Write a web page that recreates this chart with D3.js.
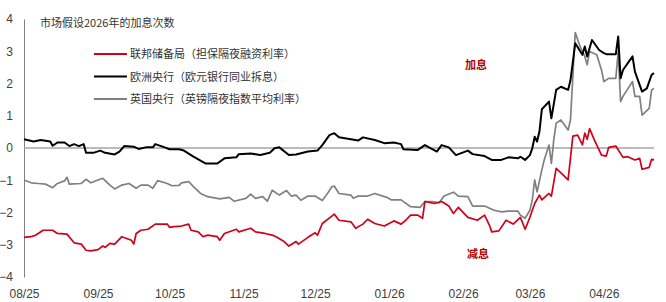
<!DOCTYPE html>
<html>
<head>
<meta charset="utf-8">
<script src="https://cdn.jsdelivr.net/npm/d3@7"></script>
<style>
    body { margin: 0; background: #fff; }
    svg text { font-family: "Liberation Sans", Arial, sans-serif; }
    .cjk { font-family: "Noto Sans CJK SC", sans-serif; }
</style>
</head>
<body>
<div id="chart"></div>
<script>
// values: [date, number of hikes priced for 2026]
const fedSeries = [
    ["2025-08-01", -2.77], ["2025-08-04", -2.75], ["2025-08-06", -2.7], ["2025-08-09", -2.55],
    ["2025-08-13", -2.55], ["2025-08-15", -2.65], ["2025-08-19", -2.67], ["2025-08-22", -2.94],
    ["2025-08-25", -2.98], ["2025-08-27", -3.17], ["2025-08-29", -3.19], ["2025-09-01", -3.15],
    ["2025-09-03", -3.04], ["2025-09-04", -3.08], ["2025-09-06", -2.96], ["2025-09-08", -2.98],
    ["2025-09-11", -2.75], ["2025-09-15", -2.86], ["2025-09-16", -2.98], ["2025-09-17", -2.65],
    ["2025-09-19", -2.55], ["2025-09-22", -2.52], ["2025-09-25", -2.36], ["2025-09-30", -2.36],
    ["2025-10-01", -2.46], ["2025-10-03", -2.44], ["2025-10-06", -2.42], ["2025-10-09", -2.36],
    ["2025-10-10", -2.55], ["2025-10-13", -2.6], ["2025-10-15", -2.75], ["2025-10-17", -2.7],
    ["2025-10-21", -2.75], ["2025-10-22", -2.86], ["2025-10-24", -2.65], ["2025-10-29", -2.52],
    ["2025-10-30", -2.6], ["2025-11-04", -2.49], ["2025-11-06", -2.6], ["2025-11-10", -2.65],
    ["2025-11-13", -2.7], ["2025-11-15", -2.77], ["2025-11-18", -2.9], ["2025-11-20", -3.04],
    ["2025-11-23", -2.9], ["2025-11-24", -2.98], ["2025-11-28", -2.77], ["2025-12-01", -2.63],
    ["2025-12-02", -2.7], ["2025-12-04", -2.34], ["2025-12-08", -2.11], ["2025-12-09", -2.05],
    ["2025-12-11", -2.24], ["2025-12-16", -2.29], ["2025-12-18", -2.49], ["2025-12-21", -2.36],
    ["2025-12-23", -2.21], ["2025-12-26", -2.34], ["2025-12-30", -2.42], ["2026-01-03", -2.26],
    ["2026-01-06", -2.36], ["2026-01-08", -2.24], ["2026-01-10", -2.08], ["2026-01-13", -2.08],
    ["2026-01-15", -2.18], ["2026-01-16", -1.66], ["2026-01-20", -1.72], ["2026-01-23", -1.66],
    ["2026-01-26", -1.8], ["2026-01-28", -2.03], ["2026-01-30", -1.84], ["2026-02-03", -2.15],
    ["2026-02-07", -2.24], ["2026-02-10", -2.08], ["2026-02-12", -2.39], ["2026-02-13", -2.6],
    ["2026-02-16", -2.57], ["2026-02-19", -2.24], ["2026-02-22", -2.36], ["2026-02-25", -2.15],
    ["2026-02-27", -2.52], ["2026-03-01", -2.15], ["2026-03-03", -1.72], ["2026-03-05", -1.46],
    ["2026-03-06", -1.61], ["2026-03-09", -1.41], ["2026-03-10", -1.49], ["2026-03-12", -0.63],
    ["2026-03-15", -0.84], ["2026-03-17", -0.99], ["2026-03-19", 0.37], ["2026-03-21", 0.4],
    ["2026-03-23", 0.1], ["2026-03-24", 0.46], ["2026-03-25", 0.27], ["2026-03-26", 0.6],
    ["2026-03-28", 0.25], ["2026-03-31", -0.22], ["2026-04-02", -0.25], ["2026-04-03", 0.02],
    ["2026-04-06", 0.06], ["2026-04-09", -0.29], ["2026-04-11", -0.27], ["2026-04-14", -0.37],
    ["2026-04-16", -0.32], ["2026-04-17", -0.66], ["2026-04-20", -0.6], ["2026-04-21", -0.35],
    ["2026-04-22", -0.37]
];

const ecbSeries = [
    ["2025-08-01", 0.27], ["2025-08-05", 0.2], ["2025-08-08", 0.25], ["2025-08-12", 0.2],
    ["2025-08-13", 0.07], ["2025-08-15", 0.17], ["2025-08-18", 0.17], ["2025-08-20", 0.06],
    ["2025-08-22", 0.12], ["2025-08-24", 0.06], ["2025-08-26", 0.12], ["2025-08-27", -0.15],
    ["2025-08-30", -0.15], ["2025-09-02", -0.08], ["2025-09-04", -0.15], ["2025-09-08", -0.2],
    ["2025-09-10", -0.11], ["2025-09-12", 0.06], ["2025-09-16", 0.04], ["2025-09-18", -0.03],
    ["2025-09-21", 0.02], ["2025-09-24", 0.02], ["2025-09-25", 0.12], ["2025-09-29", 0.02],
    ["2025-10-01", -0.04], ["2025-10-05", -0.04], ["2025-10-07", -0.08], ["2025-10-11", -0.27],
    ["2025-10-16", -0.48], ["2025-10-21", -0.48], ["2025-10-24", -0.32], ["2025-10-29", -0.29],
    ["2025-10-30", -0.19], ["2025-11-04", -0.17], ["2025-11-08", -0.22], ["2025-11-12", -0.15],
    ["2025-11-14", -0.01], ["2025-11-16", 0.02], ["2025-11-20", -0.22], ["2025-11-23", -0.2],
    ["2025-11-28", -0.11], ["2025-12-02", -0.08], ["2025-12-04", 0.09], ["2025-12-07", 0.4],
    ["2025-12-09", 0.46], ["2025-12-11", 0.33], ["2025-12-16", 0.27], ["2025-12-19", 0.23],
    ["2025-12-21", 0.33], ["2025-12-26", 0.25], ["2025-12-30", 0.15], ["2026-01-03", 0.17],
    ["2026-01-06", 0.12], ["2026-01-07", -0.04], ["2026-01-13", -0.06], ["2026-01-16", 0.09],
    ["2026-01-21", -0.11], ["2026-01-23", 0.09], ["2026-01-26", 0.02], ["2026-01-29", -0.22],
    ["2026-02-03", -0.08], ["2026-02-05", -0.19], ["2026-02-10", -0.25], ["2026-02-13", -0.37],
    ["2026-02-17", -0.37], ["2026-02-20", -0.29], ["2026-02-24", -0.32], ["2026-02-25", -0.27],
    ["2026-02-27", -0.37], ["2026-03-01", -0.22], ["2026-03-02", -0.01], ["2026-03-03", 0.35],
    ["2026-03-04", 0.2], ["2026-03-05", 0.51], ["2026-03-06", 1.2], ["2026-03-09", 1.44],
    ["2026-03-10", 0.92], ["2026-03-12", 1.8], ["2026-03-14", 1.9], ["2026-03-17", 1.8],
    ["2026-03-18", 2.1], ["2026-03-20", 3.25], ["2026-03-23", 2.89], ["2026-03-24", 3.15],
    ["2026-03-25", 2.84], ["2026-03-27", 3.35], ["2026-03-30", 3.04], ["2026-04-01", 2.94],
    ["2026-04-02", 2.91], ["2026-04-06", 2.91], ["2026-04-07", 3.46], ["2026-04-08", 2.16],
    ["2026-04-09", 2.42], ["2026-04-13", 2.84], ["2026-04-14", 2.37], ["2026-04-17", 1.75],
    ["2026-04-19", 1.85], ["2026-04-21", 2.27], ["2026-04-22", 2.32]
];

const boeSeries = [
    ["2025-08-01", -0.99], ["2025-08-04", -1.08], ["2025-08-07", -1.1], ["2025-08-10", -1.12],
    ["2025-08-13", -1.23], ["2025-08-15", -1.1], ["2025-08-18", -1.02], ["2025-08-19", -0.91],
    ["2025-08-20", -1.12], ["2025-08-25", -1.1], ["2025-08-27", -0.97], ["2025-08-29", -1.08],
    ["2025-09-03", -0.94], ["2025-09-06", -1.15], ["2025-09-08", -1.27], ["2025-09-11", -1.15],
    ["2025-09-14", -1.1], ["2025-09-17", -1.25], ["2025-09-19", -1.15], ["2025-09-22", -1.15],
    ["2025-09-24", -1.25], ["2025-09-26", -1.01], ["2025-09-30", -1.1], ["2025-10-02", -1.17],
    ["2025-10-05", -1.16], ["2025-10-06", -1.08], ["2025-10-09", -1.04], ["2025-10-11", -1.2],
    ["2025-10-14", -1.41], ["2025-10-17", -1.51], ["2025-10-22", -1.58], ["2025-10-26", -1.53],
    ["2025-10-28", -1.65], ["2025-11-02", -1.56], ["2025-11-04", -1.43], ["2025-11-06", -1.56],
    ["2025-11-09", -1.51], ["2025-11-11", -1.65], ["2025-11-13", -1.31], ["2025-11-16", -1.46],
    ["2025-11-19", -1.32], ["2025-11-21", -1.49], ["2025-11-23", -1.46], ["2025-11-25", -1.62],
    ["2025-11-28", -1.49], ["2025-12-01", -1.49], ["2025-12-04", -1.63], ["2025-12-06", -1.43],
    ["2025-12-08", -1.2], ["2025-12-09", -1.18], ["2025-12-11", -1.41], ["2025-12-16", -1.46],
    ["2025-12-17", -1.56], ["2025-12-19", -1.49], ["2025-12-23", -1.49], ["2025-12-26", -1.41],
    ["2025-12-31", -1.53], ["2026-01-02", -1.61], ["2026-01-06", -1.61], ["2026-01-10", -1.82],
    ["2026-01-14", -1.84], ["2026-01-16", -1.66], ["2026-01-19", -1.66], ["2026-01-22", -1.7],
    ["2026-01-24", -1.49], ["2026-01-28", -1.37], ["2026-01-30", -1.49], ["2026-02-03", -1.51],
    ["2026-02-05", -1.8], ["2026-02-10", -1.8], ["2026-02-14", -1.93], ["2026-02-17", -1.98],
    ["2026-02-20", -1.96], ["2026-02-24", -1.96], ["2026-02-25", -2.08], ["2026-02-27", -2.18],
    ["2026-03-01", -1.93], ["2026-03-02", -1.61], ["2026-03-03", -0.99], ["2026-03-04", -1.36],
    ["2026-03-06", -0.68], ["2026-03-07", -0.37], ["2026-03-09", 0.09], ["2026-03-10", -0.48],
    ["2026-03-11", 0.25], ["2026-03-12", 0.77], ["2026-03-14", 0.87], ["2026-03-17", 0.56],
    ["2026-03-18", 0.87], ["2026-03-20", 3.58], ["2026-03-22", 3.15], ["2026-03-24", 2.84],
    ["2026-03-25", 2.58], ["2026-03-26", 2.99], ["2026-03-29", 2.89], ["2026-03-31", 2.42],
    ["2026-04-01", 2.06], ["2026-04-03", 2.16], ["2026-04-06", 2.16], ["2026-04-07", 2.99],
    ["2026-04-08", 1.44], ["2026-04-09", 1.6], ["2026-04-13", 2.06], ["2026-04-14", 1.6],
    ["2026-04-16", 1.6], ["2026-04-17", 1.02], ["2026-04-20", 1.23], ["2026-04-21", 1.8],
    ["2026-04-22", 1.85]
];

const seriesNames = [
    "联邦储备局（担保隔夜融资利率）",
    "欧洲央行（欧元银行同业拆息）",
    "英国央行（英镑隔夜指数平均利率）"
];
const seriesColors = ["#d0021b", "#000000", "#808080"];
const yTicks = [-4, -3, -2, -1, 0, 1, 2, 3, 4];
const chartTitle = "市场假设2026年的加息次数";
const hikeLabel = "加息";
const cutLabel = "减息";

const parseDate = d3.timeParse("%Y-%m-%d");
const allSeries = [fedSeries, ecbSeries, boeSeries].map(s =>
    s.map(([d, v]) => ({ date: parseDate(d), value: v }))
);

const width = 666, height = 302;
const margin = { top: 19, right: 12, bottom: 25, left: 24 };

const svg = d3.select("#chart").append("svg")
    .attr("width", width)
    .attr("height", height);

const x = d3.scaleTime()
    .domain([parseDate("2025-08-01"), parseDate("2026-04-22")])
    .range([margin.left, width - margin.right]);

const y = d3.scaleLinear()
    .domain([-4, 4])
    .range([height - margin.bottom, margin.top]);

// y axis
const yAxis = svg.append("g")
    .attr("transform", `translate(${margin.left},0)`)
    .call(d3.axisLeft(y).tickValues(yTicks).tickSize(0).tickPadding(11).tickFormat(d3.format("d")));
yAxis.select(".domain").attr("stroke", "#808080").attr("stroke-width", 1);
yAxis.selectAll("text").attr("font-size", 12).attr("fill", "#404040")
    .attr("font-family", "Liberation Sans, Arial, sans-serif");

// x axis labels only
const xAxis = svg.append("g")
    .attr("transform", `translate(0,${height - 13})`)
    .call(d3.axisBottom(x).ticks(d3.timeMonth.every(1)).tickSize(0).tickPadding(0)
        .tickFormat(d3.timeFormat("%m/%y")));
xAxis.select(".domain").remove();
xAxis.selectAll("text").attr("font-size", 12).attr("fill", "#404040")
    .attr("font-family", "Liberation Sans, Arial, sans-serif");

// zero line
svg.append("line")
    .attr("x1", margin.left).attr("x2", width - margin.right)
    .attr("y1", y(0)).attr("y2", y(0))
    .attr("stroke", "#a6a6a6").attr("stroke-width", 1.5);

const line = d3.line()
    .x(d => x(d.date))
    .y(d => y(d.value));

// draw gray first, then red, then black on top
[2, 0, 1].forEach(i => {
    svg.append("path")
        .datum(allSeries[i])
        .attr("fill", "none")
        .attr("stroke", seriesColors[i])
        .attr("stroke-width", i === 1 ? 2 : 1.7)
        .attr("stroke-linejoin", "round")
        .attr("d", line);
});

// title
svg.append("text")
    .attr("class", "cjk")
    .attr("x", 40).attr("y", 27)
    .attr("font-size", 11)
    .attr("fill", "#333")
    .text(chartTitle);

// legend
const legend = svg.append("g");
seriesNames.forEach((name, i) => {
    const ly = 54 + i * 22.5;
    legend.append("line")
        .attr("x1", 94).attr("x2", 127)
        .attr("y1", ly).attr("y2", ly)
        .attr("stroke", seriesColors[i])
        .attr("stroke-width", 2);
    legend.append("text")
        .attr("class", "cjk")
        .attr("x", 130).attr("y", ly + 4)
        .attr("font-size", 11)
        .attr("fill", "#333")
        .text(name);
});

// annotations
svg.append("text")
    .attr("class", "cjk")
    .attr("x", 476).attr("y", 69)
    .attr("text-anchor", "middle")
    .attr("font-size", 11).attr("font-weight", "bold")
    .attr("fill", "#b00000")
    .text(hikeLabel);

svg.append("text")
    .attr("class", "cjk")
    .attr("x", 478).attr("y", 258)
    .attr("text-anchor", "middle")
    .attr("font-size", 11).attr("font-weight", "bold")
    .attr("fill", "#b00000")
    .text(cutLabel);
</script>
</body>
</html>
